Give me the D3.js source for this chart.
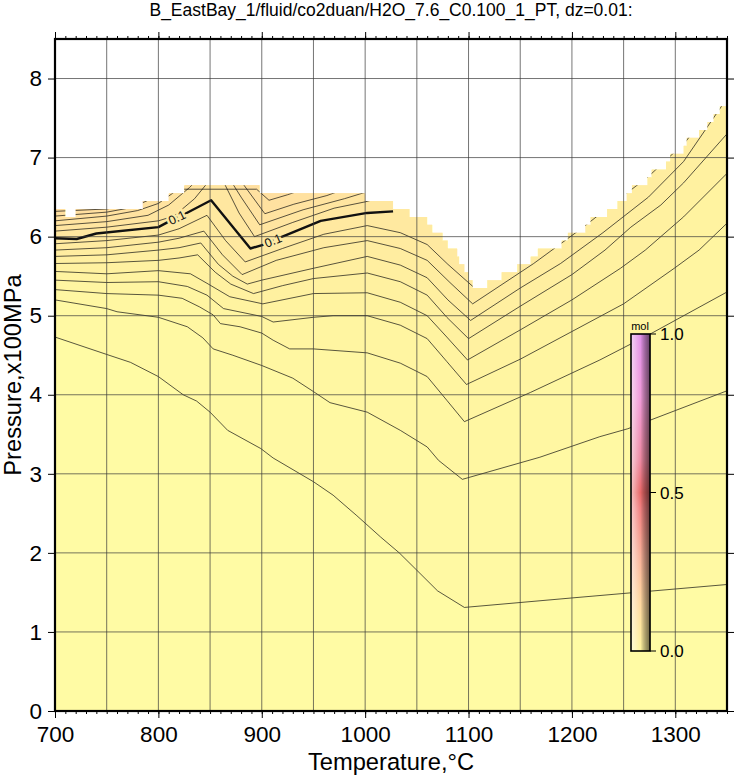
<!DOCTYPE html>
<html>
<head>
<meta charset="utf-8">
<script src="https://cdn.jsdelivr.net/npm/d3@7"></script>
<style>
body { margin: 0; background: #fff; }
text { font-family: "Liberation Sans", Arial, sans-serif; }
</style>
</head>
<body>
<script>
// axis ticks
var xTicks = [700, 800, 900, 1000, 1100, 1200, 1300];
var yTicks = [0, 1, 2, 3, 4, 5, 6, 7, 8];
var cbTicks = [0, 0.5, 1];
var levels = [0.01, 0.02, 0.03, 0.04, 0.05, 0.06, 0.07, 0.08, 0.09, 0.1, 0.11, 0.12, 0.13, 0.14, 0.15];

// upper edge of the data grid: [T where the step starts, P of the step]
var boundary = [[700,6.35],[710,6.25],[720,6.35],[785,6.45],[810,6.55],[825,6.65],[898,6.55],
  [1000,6.45],[1027,6.35],[1043,6.25],[1060,6.15],[1065,6.05],[1075,5.95],[1080,5.85],[1089,5.75],
  [1091,5.65],[1096,5.55],[1100,5.45],[1104,5.35],[1118,5.45],[1132,5.55],[1147,5.65],[1160,5.75],
  [1167,5.85],[1190,5.95],[1196,6.05],[1213,6.15],[1218,6.25],[1234,6.35],[1244,6.45],[1253,6.55],
  [1258,6.65],[1273,6.75],[1277,6.85],[1291,6.95],[1295,7.05],[1308,7.15],[1311,7.25],[1323,7.35],
  [1331,7.45],[1337,7.55],[1343,7.65]];

// contours, [T, P]
var c01 = [[700,4.73],[750,4.51],[773,4.41],[800,4.23],[824,4.0],[837,3.92],[850,3.78],[867,3.55],[899,3.32],
  [911,3.2],[950,2.9],[969,2.73],[992,2.47],[1015,2.2],[1033,2.0],[1050,1.78],[1070,1.52],[1096,1.31],
  [1200,1.43],[1350,1.6]];
var c02 = [[700,5.2],[750,5.09],[760,5.05],[800,4.98],[828,4.86],[843,4.72],[853,4.58],[872,4.5],[900,4.37],
  [930,4.21],[950,4.04],[966,3.9],[1002,3.78],[1034,3.55],[1060,3.34],[1071,3.17],[1094,2.93],
  [1169,3.21],[1227,3.47],[1254,3.57],[1300,3.8],[1350,4.05]];
var c03 = [[700,5.33],[750,5.28],[800,5.26],[823,5.22],[840,5.11],[853,5.01],[860,4.9],[879,4.86],[900,4.78],
  [911,4.69],[927,4.58],[950,4.58],[1002,4.53],[1034,4.4],[1060,4.23],[1079,3.93],[1096,3.66],
  [1160,4.03],[1227,4.44],[1276,4.77],[1350,5.3]];
var c04 = [[700,5.45],[750,5.42],[800,5.43],[828,5.37],[847,5.26],[863,5.09],[900,4.99],[911,4.92],[950,4.98],
  [969,5.0],[1002,5.0],[1034,4.88],[1060,4.71],[1079,4.42],[1098,4.13],
  [1150,4.45],[1200,4.8],[1250,5.15],[1299,5.6],[1323,5.83],[1350,6.17]];
var c05 = [[700,5.56],[750,5.53],[800,5.57],[831,5.53],[847,5.41],[869,5.24],[901,5.15],[950,5.28],[1002,5.29],
  [1034,5.17],[1060,5.0],[1079,4.73],[1099,4.44],
  [1150,4.82],[1200,5.2],[1247,5.6],[1271,5.83],[1308,6.25],[1350,6.8]];
var c06 = [[700,5.66],[750,5.67],[800,5.7],[820,5.73],[838,5.77],[855,5.55],[870,5.4],[892,5.28],[920,5.38],
  [950,5.47],[1002,5.54],[1034,5.43],[1060,5.26],[1079,4.98],[1100,4.71],
  [1150,5.12],[1200,5.52],[1232,5.83],[1257,6.12],[1286,6.4],[1308,6.68],[1350,7.3]];
var c07 = [[700,5.75],[750,5.77],[800,5.83],[820,5.86],[841,5.92],[858,5.65],[872,5.5],[886,5.4],[900,5.45],
  [950,5.6],[1002,5.75],[1034,5.64],[1060,5.48],[1080,5.2],[1102,4.94],
  [1150,5.35],[1189,5.66],[1230,6.05],[1274,6.5],[1308,6.95],[1350,7.75]];
var c08 = [[700,5.83],[750,5.86],[800,5.93],[820,5.98],[844,6.07],[862,5.77],[881,5.52],[914,5.7],[960,5.86],
  [1002,5.95],[1034,5.85],[1060,5.7],[1082,5.42],[1104,5.15],
  [1163,5.66],[1211,6.12],[1240,6.42],[1274,6.76],[1310,7.2],[1350,7.9]];
var c09 = [[700,5.91],[750,5.95],[800,6.02],[820,6.1],[847,6.27],[865,5.95],[884,5.68],[920,5.85],[960,6.03],
  [1002,6.14],[1034,6.05],[1060,5.9],[1080,5.65],[1105,5.36],
  [1160,5.8],[1200,6.25],[1240,6.7]];
var c10 = [[700,5.98],[721,5.97],[740,6.04],[800,6.12],[810,6.19],[826,6.29],[851,6.46],[889,5.85],[902,5.9],
  [920,6.0],[957,6.2],[1002,6.3],[1027,6.32]];
var c11 = [[700,6.07],[750,6.12],[800,6.2],[815,6.26],[835,6.48],[850,6.72],[862,6.72],[878,6.3],[893,6.0],
  [930,6.18],[970,6.36],[1000,6.44],[1030,6.55]];
var c12 = [[700,6.14],[750,6.19],[790,6.27],[810,6.4],[830,6.62],[840,6.75],[868,6.75],[880,6.5],[898,6.15],
  [940,6.34],[980,6.48],[1000,6.56]];
var c13 = [[700,6.2],[750,6.26],[780,6.33],[800,6.42],[815,6.56],[825,6.7],[880,6.7],[903,6.29],[931,6.41],
  [963,6.52],[980,6.6]];
var c14 = [[700,6.26],[750,6.31],[775,6.37],[790,6.46],[805,6.6],[895,6.6],[907,6.46],[925,6.53],[945,6.62]];
var c15 = [[700,6.32],[750,6.35],[780,6.42],[800,6.56]];
var contours = [c01, c02, c03, c04, c05, c06, c07, c08, c09, c10, c11, c12, c13, c14, c15];

// "0.1" labels on the bold contour
var labelPts = [[[810,6.19],[826,6.29]], [[902,5.9],[920,6.0]]];

// colour bar palette
var cbStops = [0, 0.15, 0.3, 0.45, 0.5, 0.6, 0.8, 1];
var cbColors = ['#fff59e', '#ffd8a0', '#f8b098', '#f08080', '#e86868', '#ec88a0', '#f09ad8', '#e090e8'];

var W = 734, H = 776;
var svg = d3.select('body').append('svg').attr('width', W).attr('height', H);
var defs = svg.append('defs');

var x = d3.scaleLinear().domain([700, 1350]).range([55, 727]);
var y = d3.scaleLinear().domain([0, 8.5]).range([711, 39]);

// data region polygon
var region = [];
boundary.forEach(function(b, i) {
  var t2 = i < boundary.length - 1 ? boundary[i + 1][0] : 1350;
  region.push([b[0], b[1]], [t2, b[1]]);
});
region.push([1350, 0], [700, 0]);
var poly = d3.line().x(d => x(d[0])).y(d => y(d[1]));

defs.append('clipPath').attr('id', 'dataclip')
  .append('path').attr('d', poly(region) + 'Z');

svg.append('path').attr('d', poly(region) + 'Z').attr('fill', '#fffba4');

var clipped = svg.append('g').attr('clip-path', 'url(#dataclip)');

// shading above each level
contours.forEach(function(c) {
  var pts = c.concat([[c[c.length - 1][0], 9], [c[0][0], 9]]);
  clipped.append('path').attr('d', poly(pts) + 'Z')
    .attr('fill', '#f8c890').attr('fill-opacity', 0.03);
});

var line = d3.line().x(d => x(d[0])).y(d => y(d[1]));
contours.forEach(function(c, i) {
  var bold = Math.abs(levels[i] - 0.1) < 1e-9;
  clipped.append('path').attr('d', line(c))
    .attr('fill', 'none').attr('stroke', '#111')
    .attr('stroke-width', bold ? 2.4 : 0.7)
    .attr('stroke-linejoin', 'round');
});

labelPts.forEach(function(p) {
  var x0 = x(p[0][0]), y0 = y(p[0][1]), x1 = x(p[1][0]), y1 = y(p[1][1]);
  var ang = Math.atan2(y1 - y0, x1 - x0) * 180 / Math.PI;
  svg.append('text')
    .attr('transform', `translate(${(x0 + x1) / 2},${(y0 + y1) / 2}) rotate(${ang})`)
    .attr('text-anchor', 'middle').attr('dy', '0.35em')
    .attr('font-size', 12.5).attr('fill', '#111')
    .attr('stroke', '#fde9a3').attr('stroke-width', 5).attr('paint-order', 'stroke')
    .text('0.1');
});

// grid
var grid = svg.append('g').attr('stroke', '#3a3a3a').attr('stroke-width', 0.7);
d3.range(750, 1350, 50).forEach(function(t) {
  grid.append('line').attr('x1', x(t)).attr('x2', x(t)).attr('y1', y(0)).attr('y2', y(8.5));
});
d3.range(1, 9).forEach(function(p) {
  grid.append('line').attr('x1', x(700)).attr('x2', x(1350)).attr('y1', y(p)).attr('y2', y(p));
});

// axes
var minor = d3.range(700, 1351, 10);
function styleAxis(g) {
  g.select('.domain').remove();
  g.selectAll('.tick line').attr('stroke', '#000').attr('stroke-width', 1);
  g.selectAll('.tick text').attr('fill', '#000')
    .style('font-family', '"Liberation Sans", Arial, sans-serif').attr('font-size', 22.5);
}
svg.append('g').attr('transform', `translate(0,${y(0)})`)
  .call(d3.axisBottom(x).tickValues(minor).tickSize(3).tickFormat('')).call(styleAxis);
svg.append('g').attr('transform', `translate(0,${y(0)})`)
  .call(d3.axisBottom(x).tickValues(xTicks).tickSize(7).tickPadding(8).tickFormat(d3.format('d'))).call(styleAxis);
svg.append('g').attr('transform', `translate(0,${y(8.5)})`)
  .call(d3.axisTop(x).tickValues(minor).tickSize(3).tickFormat('')).call(styleAxis);
svg.append('g').attr('transform', `translate(0,${y(8.5)})`)
  .call(d3.axisTop(x).tickValues(xTicks).tickSize(7).tickFormat('')).call(styleAxis);
svg.append('g').attr('transform', `translate(${x(700)},0)`)
  .call(d3.axisLeft(y).tickValues(yTicks).tickSize(7).tickPadding(6).tickFormat(d3.format('d'))).call(styleAxis);
svg.append('g').attr('transform', `translate(${x(1350)},0)`)
  .call(d3.axisRight(y).tickValues(yTicks).tickSize(7).tickFormat('')).call(styleAxis);

svg.append('rect').attr('x', x(700)).attr('y', y(8.5))
  .attr('width', x(1350) - x(700)).attr('height', y(0) - y(8.5))
  .attr('fill', 'none').attr('stroke', '#000').attr('stroke-width', 2.2);

// titles
svg.append('text').attr('x', 391).attr('y', 16).attr('text-anchor', 'middle')
  .attr('font-size', 17.5).text('B_EastBay_1/fluid/co2duan/H2O_7.6_C0.100_1_PT, dz=0.01:');
svg.append('text').attr('x', 391).attr('y', 770).attr('text-anchor', 'middle')
  .attr('font-size', 23.7).text('Temperature,°C');
svg.append('text').attr('transform', 'translate(21,375) rotate(-90)').attr('text-anchor', 'middle')
  .attr('font-size', 23.7).text('Pressure,x100MPa');

// colour bar
var cbColor = d3.scaleLinear().domain(cbStops).range(cbColors);
var cbX = d3.scaleLinear().domain([0, 1]).range([631, 650]);
var cbY = d3.scaleLinear().domain([0, 1]).range([651, 334]);
var cb = svg.append('g');
var ncol = 19;
d3.range(ncol).forEach(function(i) {
  var t = (i + 0.5) / ncol * 2 - 1;
  var grad = defs.append('linearGradient').attr('id', 'cb' + i)
    .attr('x1', 0).attr('y1', 1).attr('x2', 0).attr('y2', 0);
  d3.range(0, 1.0001, 0.05).forEach(function(z) {
    var base = cbColor(z);
    var c = t < 0 ? d3.interpolateRgb(base, '#fff')(-t * 0.6) : d3.rgb(base).darker(t * 2.2).formatHex();
    grad.append('stop').attr('offset', z).attr('stop-color', c);
  });
  cb.append('rect').attr('x', cbX(i / ncol)).attr('y', cbY(1))
    .attr('width', cbX(1 / ncol) - cbX(0) + 0.3).attr('height', cbY(0) - cbY(1))
    .attr('fill', 'url(#cb' + i + ')');
});
cb.append('rect').attr('x', cbX(0)).attr('y', cbY(1))
  .attr('width', cbX(1) - cbX(0)).attr('height', cbY(0) - cbY(1))
  .attr('fill', 'none').attr('stroke', '#000').attr('stroke-width', 1.6);
cbTicks.forEach(function(v) {
  cb.append('line').attr('x1', cbX(1)).attr('x2', cbX(1) + 6).attr('y1', cbY(v)).attr('y2', cbY(v))
    .attr('stroke', '#000').attr('stroke-width', 1);
  cb.append('text').attr('x', 660).attr('y', cbY(v)).attr('dy', '0.36em')
    .attr('font-size', 17).text(d3.format('.1f')(v));
});
cb.append('text').attr('x', 640).attr('y', 330).attr('text-anchor', 'middle')
  .attr('font-size', 11).text('mol');
</script>
</body>
</html>
